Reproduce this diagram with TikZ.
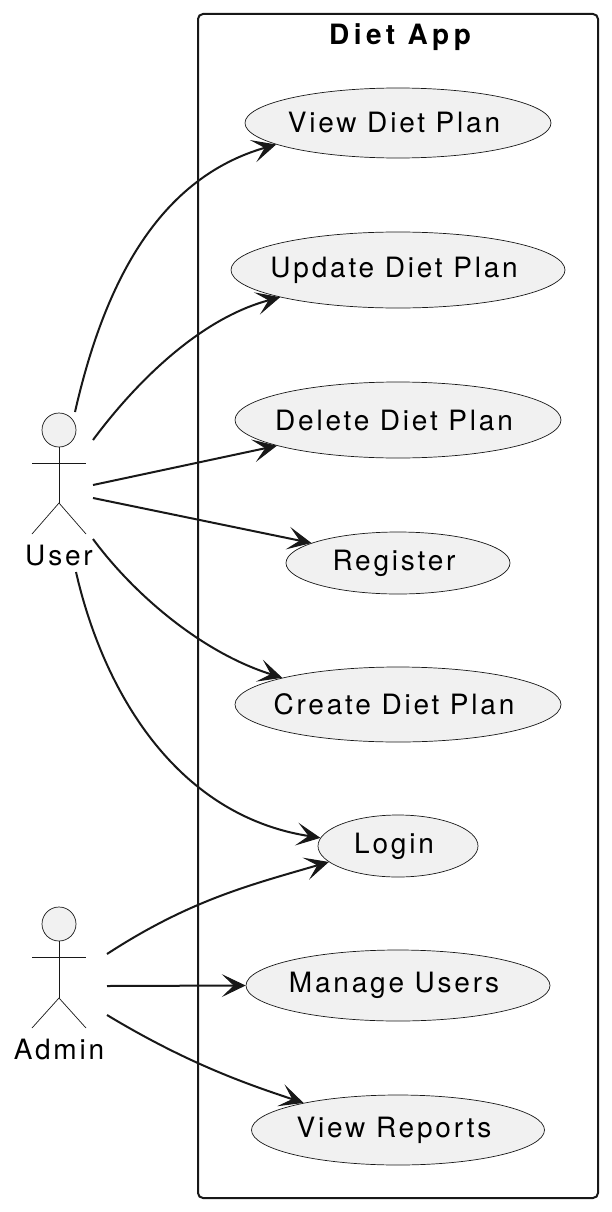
\documentclass[tikz,border=0pt]{standalone}
\usepackage{fontspec}
\setmainfont[LetterSpace=10]{TeX Gyre Heros}
\newfontfamily\titlefont[LetterSpace=16]{TeX Gyre Heros}
\usetikzlibrary{shapes}
\usetikzlibrary{arrows.meta}
\definecolor{linegray}{HTML}{181818}
\definecolor{usefill}{HTML}{F1F1F1}
\tikzset{
    usecase/.style={ellipse, draw=linegray, fill=usefill, line width=.7pt, inner sep=-45pt, font=\fontsize{28}{32}\selectfont, execute at end node=\hspace{8pt}},
    actorhead/.style={circle, draw=linegray, fill=usefill, line width=.7pt, inner sep=0pt, minimum size=34pt},
    actorline/.style={draw=linegray, line width=.7pt},
    actorname/.style={font=\fontsize{28}{32}\selectfont},
    assoc/.style={draw=linegray, line width=2pt, -{Stealth[length=24pt, width=23pt, inset=12pt, line width=1pt]}},
}
\begin{document}
\begin{tikzpicture}[x=1pt,y=-1pt]
        \useasboundingbox (0,0) rectangle (612,1212);
        \draw [draw=linegray, line width=2pt, rounded corners=5pt] (198,14) rectangle (598,1198);
        \node [font=\titlefont\bfseries\fontsize{28}{32}\selectfont] (title) at (400,37) {Diet App};

        \node [usecase, minimum width=306pt, minimum height=70pt] (view) at (398,123) {View Diet Plan};
        \node [usecase, minimum width=334pt, minimum height=76pt] (update) at (398,270) {Update Diet Plan};
        \node [usecase, minimum width=326pt, minimum height=76pt] (delete) at (398,420) {Delete Diet Plan};
        \node [usecase, minimum width=224pt, minimum height=62pt] (register) at (398,563) {Register};
        \node [usecase, minimum width=326pt, minimum height=75pt] (create) at (398,704.5) {Create Diet Plan};
        \node [usecase, minimum width=160pt, minimum height=62pt] (login) at (398,846) {Login};
        \node [usecase, minimum width=304pt, minimum height=71pt] (manage) at (398,985.5) {Manage Users};
        \node [usecase, minimum width=293pt, minimum height=70pt] (reports) at (398,1130) {View Reports};

        % user
        \node [actorhead] (userhead) at (59,430) {};
        \coordinate (userhip) at (59,503);
        \draw [actorline] (userhead) -- (userhip);
        \draw [actorline] (32,463) -- (86,463);
        \draw [actorline] (32,534) -- (userhip) -- (86,534);
        \node [actorname] (user) at (59,556) {User};

        % admin
        \node [actorhead] (adminhead) at (59,924) {};
        \coordinate (adminhip) at (59,998);
        \draw [actorline] (adminhead) -- (adminhip);
        \draw [actorline] (32,957) -- (86,957);
        \draw [actorline] (32,1028) -- (adminhip) -- (86,1028);
        \node [actorname] (admin) at (59,1049) {Admin};

        \coordinate (ua) at (75,412);
        \coordinate (ub) at (93,440);
        \coordinate (uc) at (93,485);
        \coordinate (ud) at (93,498);
        \coordinate (ue) at (93,539);
        \coordinate (uf) at (76,572);
        \coordinate (aa) at (107,954);
        \coordinate (ab) at (107,986);
        \coordinate (ac) at (107,1015);

        \draw [assoc] (ua) .. controls (105,280) and (160,178) .. (view.190);
        \draw [assoc] (ub) .. controls (130,390) and (195,320) .. (update.193);
        \draw [assoc] (uc) -- (delete.192.6);
        \draw [assoc] (ud) -- (register.167.8);
        \draw [assoc] (ue) .. controls (132,592) and (200,652) .. (create.167);
        \draw [assoc] (uf) .. controls (103,690) and (175,815) .. (login.174);
        \draw [assoc] (aa) .. controls (190,900) and (250,885) .. (login.193);
        \draw [assoc] (ab) -- (manage.180);
        \draw [assoc] (ac) .. controls (190,1065) and (250,1085) .. (reports.164.4);
    \end{tikzpicture}
\end{document}
